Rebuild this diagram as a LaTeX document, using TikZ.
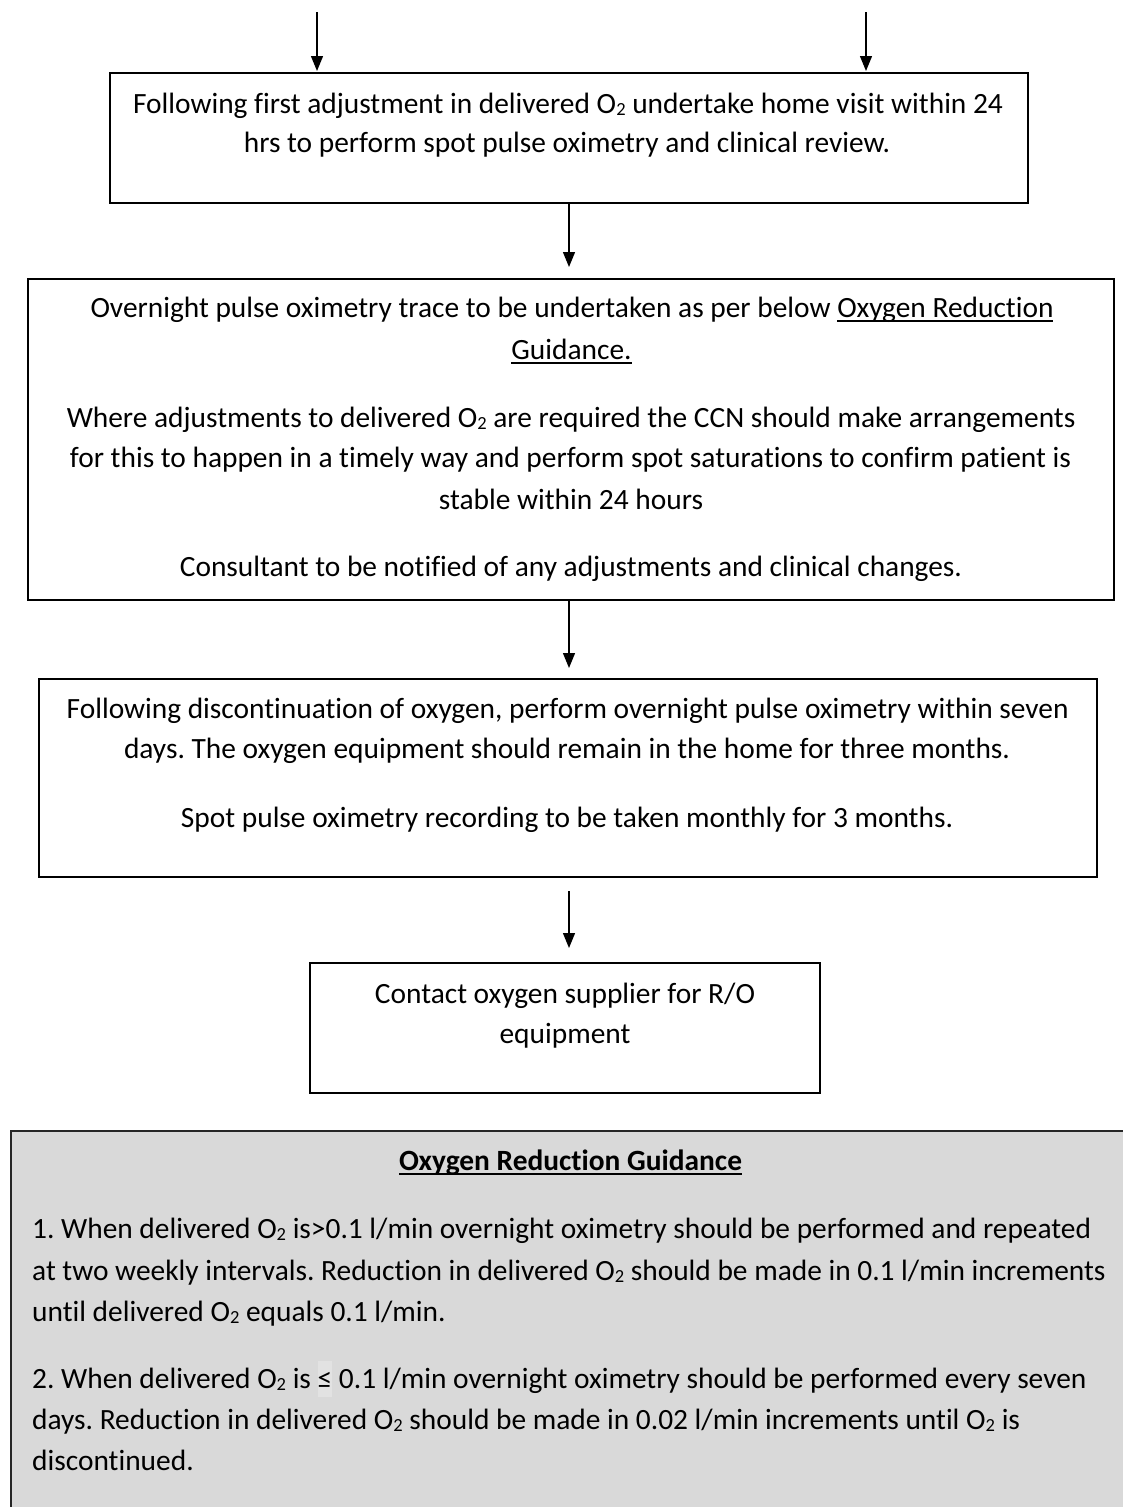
\documentclass[tikz,border=0pt]{standalone}
\usepackage{fontspec}
\setmainfont{Carlito}[Ligatures=NoCommon]
\usetikzlibrary{arrows.meta}
\definecolor{panel}{HTML}{D9D9D9}
\definecolor{hlc}{HTML}{E2E2E2}
\newcommand\myul[1]{\setbox0\hbox{#1}\rlap{\rule[-5pt]{\wd0}{1.8pt}}\box0}
\newcommand\Ox{O\raisebox{-2.5pt}{\fontsize{18.5}{18.5}\selectfont 2}}
\newcommand\hlsym[1]{{\setlength\fboxsep{0pt}\colorbox{hlc}{\rule[-9pt]{0pt}{36pt}#1}}}
\frenchspacing
\begin{document}
\begin{tikzpicture}[x=1pt,y=-1pt,
  box/.style={draw=black, line width=2pt, inner sep=0pt},
  txt/.style={anchor=base, inner sep=0pt, font=\fontsize{29.4}{34}\selectfont},
  ltxt/.style={txt, anchor=base west},
  conn/.style={line width=1.3pt, -{Triangle[length=15pt,width=12pt]}}]
\useasboundingbox (0,0) rectangle (1122,1507);

% boxes
\node[box, minimum width=918pt, minimum height=130pt] (b1) at (569,138) {};
\node[box, minimum width=1086pt, minimum height=321pt] (b2) at (571,439.5) {};
\node[box, minimum width=1058pt, minimum height=198pt] (b3) at (568,778) {};
\node[box, minimum width=510pt, minimum height=130pt] (b4) at (565,1028) {};
\node[box, fill=panel, draw=black!85, minimum width=1129pt, minimum height=399pt] (b5) at (575.5,1330.5) {};

% free ends of top arrows
\coordinate (tl) at (317,12);
\coordinate (tr) at (866,12);

% connectors
\draw[conn, shorten >=1pt] (tl) -- (tl |- b1.north);
\draw[conn, shorten >=1pt] (tr) -- (tr |- b1.north);
\draw[conn, shorten >=11pt] (b1.south) -- (b1.south |- b2.north);
\draw[conn, shorten >=10pt] (b1.south |- b2.south) -- (b1.south |- b3.north);
\draw[conn, shorten <=13pt, shorten >=14pt] (b1.south |- b3.south) -- (b1.south |- b4.north);

% box 1 text
\node[txt] (t11) at (568,113) {Following first adjustment in delivered \Ox{} undertake home visit within 24};
\node[txt] (t12) at (567,152) {hrs to perform spot pulse oximetry and clinical review.};

% box 2 text
\node[txt] (t21) at (572,317) {Overnight pulse oximetry trace to be undertaken as per below \myul{Oxygen Reduction}};
\node[txt] (t22) at (571.5,359) {\myul{Guidance.}};
\node[txt] (t23) at (571,427) {Where adjustments to delivered \Ox{} are required the CCN should make arrangements};
\node[txt] (t24) at (570.5,467) {for this to happen in a timely way and perform spot saturations to confirm patient is};
\node[txt] (t25) at (571,509) {stable within 24 hours};
\node[txt] (t26) at (571,576) {Consultant to be notified of any adjustments and clinical changes.};

% box 3 text
\node[txt] (t31) at (567.7,718) {Following discontinuation of oxygen, perform overnight pulse oximetry within seven};
\node[txt] (t32) at (567,758) {days. The oxygen equipment should remain in the home for three months.};
\node[txt] (t33) at (567,827) {Spot pulse oximetry recording to be taken monthly for 3 months.};

% box 4 text
\node[txt] (t41) at (565,1003) {Contact oxygen supplier for R/O};
\node[txt] (t42) at (565,1043) {equipment};

% box 5 text
\node[txt] (t50) at (570.5,1170) {\bfseries\myul{Oxygen Reduction Guidance}};
\node[ltxt] (t51) at (32,1238) {1. When delivered \Ox{} is>0.1 l/min overnight oximetry should be performed and repeated};
\node[ltxt] (t52) at (32,1280) {at two weekly intervals. Reduction in delivered \Ox{} should be made in 0.1 l/min increments};
\node[ltxt] (t53) at (32,1321) {until delivered \Ox{} equals 0.1 l/min.};
\node[ltxt] (t54) at (32,1388) {2. When delivered \Ox{} is \hlsym{≤} 0.1 l/min overnight oximetry should be performed every seven};
\node[ltxt] (t55) at (32,1429) {days. Reduction in delivered \Ox{} should be made in 0.02 l/min increments until \Ox{} is};
\node[ltxt] (t56) at (32,1470) {discontinued.};
\end{tikzpicture}
\end{document}
